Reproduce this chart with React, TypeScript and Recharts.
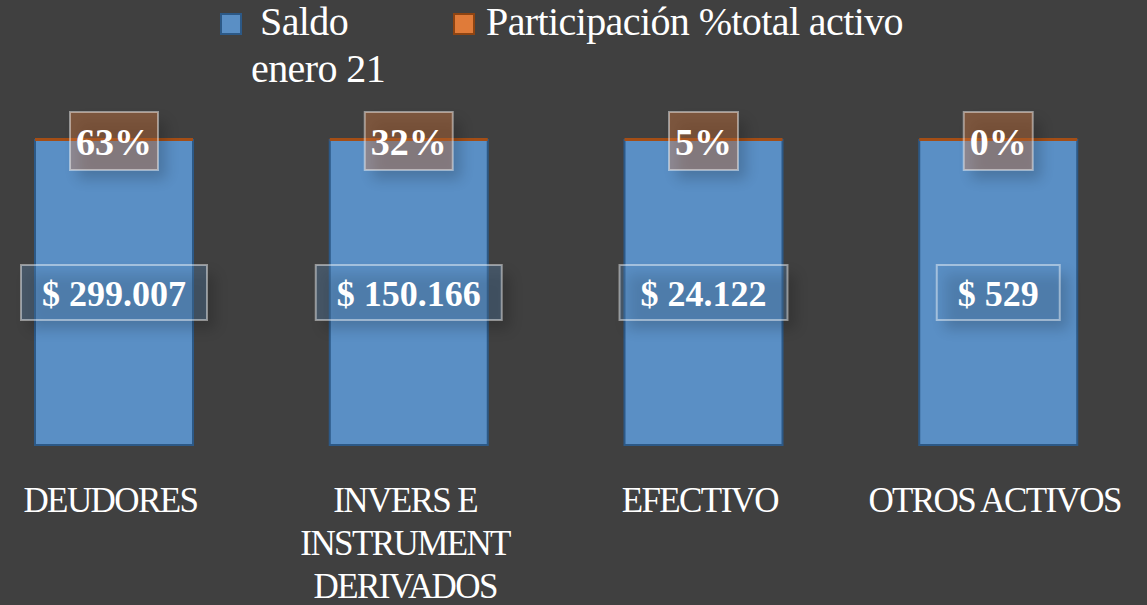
import React from 'react';
import { BarChart, Bar, XAxis, YAxis, LabelList } from 'recharts';

const categories = ['DEUDORES', 'INVERS E INSTRUMENT DERIVADOS', 'EFECTIVO', 'OTROS ACTIVOS'];
const saldo = [299007, 150166, 24122, 529];
const participacion = [0.631, 0.317, 0.051, 0.001];
const seriesNames = ['Saldo enero 21', 'Participación %total activo'];

const data = categories.map((name, i) => ({ name, saldo: saldo[i], part: participacion[i] }));

const BG = '#404040';
const BLUE = '#5A8FC5';
const BLUE_EDGE = '#2C5987';
const ORANGE = '#E07B39';
const ORANGE_EDGE = '#A44E16';
const FONT = '"Liberation Serif", serif';
const LABEL_FONT = `bold 36px ${FONT}`;
const PCT_FONT = `bold 38px ${FONT}`;
const TICK_FONT = `35px ${FONT}`;

const ctx = document.createElement('canvas').getContext('2d');
const textWidth = (t: string, font: string) => {
  if (!ctx) return t.length * 18;
  ctx.font = font;
  return ctx.measureText(t).width;
};

const money = (v: number) => '$ ' + String(v).replace(/\B(?=(\d{3})+(?!\d))/g, '.');

// soft shadow behind the label boxes
const Shadow = ({ id, x, y, w, h }: any) => (
  <g>
    <defs>
      <filter id={id} x="-50%" y="-50%" width="200%" height="200%">
        <feGaussianBlur stdDeviation="7" />
      </filter>
    </defs>
    <rect x={x + 8} y={y + 9} width={w} height={h} fill="#000" opacity={0.18} filter={`url(#${id})`} />
  </g>
);

const SaldoLabel = (props: any) => {
  const { x, y, width, height, index } = props;
  const label = money(saldo[index] ?? props.value);
  const w = textWidth(label, LABEL_FONT) + 42;
  const h = 55;
  const cx = x + width / 2;
  const cy = y + height / 2;
  return (
    <g>
      <Shadow id={`sh-s-${index}`} x={cx - w / 2} y={cy - h / 2} w={w} h={h} />
      <rect x={cx - w / 2} y={cy - h / 2} width={w} height={h} fill="rgba(91,143,197,0.3)" stroke="rgba(255,255,255,0.45)" strokeWidth={2} />
      <text x={cx} y={cy + 13} textAnchor="middle" fill="#fff" fontFamily={FONT} fontWeight="bold" fontSize={36}>
        {label}
      </text>
    </g>
  );
};

const PctLabel = (props: any) => {
  const { x, y, width, index } = props;
  const label = Math.round((participacion[index] ?? props.value) * 100) + '%';
  const w = textWidth(label, PCT_FONT) + 12;
  const h = 58;
  const cx = x + width / 2;
  const cy = y + 1;
  return (
    <g>
      <Shadow id={`sh-p-${index}`} x={cx - w / 2} y={cy - h / 2} w={w} h={h} />
      <rect x={cx - w / 2} y={cy - h / 2} width={w} height={h} fill="rgba(232,128,60,0.36)" stroke="rgba(255,255,255,0.45)" strokeWidth={2} />
      <text x={cx} y={cy + 14} textAnchor="middle" fill="#fff" fontFamily={FONT} fontWeight="bold" fontSize={38}>
        {label}
      </text>
    </g>
  );
};

// the share series is tiny next to the balances, so only its edge shows
const TopEdge = (props: any) => (
  <rect x={props.x} y={props.y - 2} width={props.width} height={3} fill={ORANGE_EDGE} />
);

const CategoryTick = (props: any) => {
  const { y, payload } = props;
  const x = props.x - 4;
  const words = String(payload.value).split(' ');
  const lines: string[] = [];
  let cur = '';
  for (const w of words) {
    const next = cur ? cur + ' ' + w : w;
    if (cur && textWidth(next, TICK_FONT) > 288) {
      lines.push(cur);
      cur = w;
    } else cur = next;
  }
  lines.push(cur);
  return (
    <text x={x} y={y} textAnchor="middle" fill="#fff" fontFamily={FONT} fontSize={35} style={{ letterSpacing: '-1.6px' }}>
      {lines.map((l, i) => (
        <tspan key={i} x={x} dy={i === 0 ? 65 : 43}>
          {l}
        </tspan>
      ))}
    </text>
  );
};

const legendColors = [
  { fill: BLUE, edge: BLUE_EDGE, left: 220, textLeft: 251, width: 175, indent: 9 },
  { fill: ORANGE, edge: '#8E4412', left: 453, textLeft: 486, width: 460, indent: 0 },
];

const ChartLegend = () => (
  <>
    {seriesNames.map((name, i) => {
      const c = legendColors[i];
      return (
        <React.Fragment key={name}>
          <div style={{ position: 'absolute', left: c.left, top: 13, width: 18, height: 18, background: c.fill, border: `2px solid ${c.edge}` }} />
          <div
            style={{
              position: 'absolute',
              left: c.textLeft,
              top: -2,
              width: c.width,
              textIndent: c.indent,
              color: '#fff',
              fontFamily: FONT,
              fontSize: 40,
              lineHeight: '47px',
              letterSpacing: '-0.6px',
            }}
          >
            {name}
          </div>
        </React.Fragment>
      );
    })}
  </>
);

export default function App() {
  return (
    <div style={{ position: 'absolute', left: 0, top: 0, width: 1147, height: 605, background: BG, overflow: 'hidden' }}>
      <ChartLegend />
      <div style={{ position: 'absolute', left: -33, top: 0 }}>
        <BarChart width={1179} height={605} data={data} stackOffset="expand" margin={{ top: 140, right: 0, bottom: 0, left: 0 }}>
          <XAxis dataKey="name" axisLine={false} tickLine={false} tickSize={0} height={160} interval={0} tick={<CategoryTick />} />
          <YAxis hide />
          <Bar dataKey="saldo" name={seriesNames[0]} stackId="a" barSize={158} fill={BLUE} stroke={BLUE_EDGE} strokeWidth={2} isAnimationActive={false}>
            <LabelList content={(p: any) => <SaldoLabel {...p} />} />
          </Bar>
          <Bar dataKey="part" name={seriesNames[1]} stackId="a" barSize={158} fill={ORANGE} shape={<TopEdge />} isAnimationActive={false}>
            <LabelList content={(p: any) => <PctLabel {...p} />} />
          </Bar>
        </BarChart>
      </div>
    </div>
  );
}
